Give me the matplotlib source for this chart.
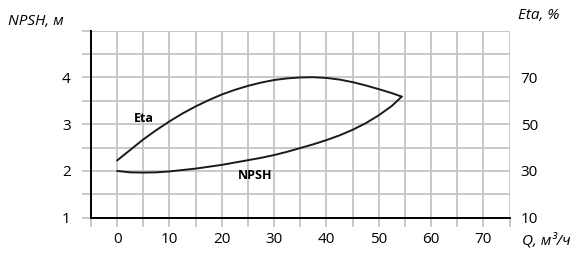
import numpy as np
import matplotlib
matplotlib.use('Agg')
import matplotlib.pyplot as plt

plt.rcParams['font.family'] = ['Open Sans', 'DejaVu Sans']

# flow, m3/h
q_eta = [0, 2.5, 5, 7.5, 10, 12.5, 15, 17.5, 20, 22.5, 25, 27.5, 30, 32.5,
         35, 37.5, 40, 42.5, 45, 47.5, 50, 52.5, 54.4]
# efficiency, %
eta = [34.5, 39.0, 43.5, 47.5, 51.2, 54.6, 57.6, 60.3, 62.7, 64.7, 66.4, 67.8,
       68.9, 69.6, 70.0, 70.1, 69.8, 69.1, 68.0, 66.6, 65.0, 63.3, 61.8]

q_npsh = [0, 2.5, 5, 7.5, 10, 12.5, 15, 17.5, 20, 22.5, 25, 27.5, 30, 32.5,
          35, 37.5, 40, 42.5, 45, 47.5, 50, 52.5, 54.4]
# NPSH, m
npsh = [2.0, 1.97, 1.965, 1.97, 1.99, 2.02, 2.05, 2.09, 2.13, 2.18, 2.23, 2.28,
        2.34, 2.41, 2.49, 2.57, 2.66, 2.76, 2.88, 3.02, 3.19, 3.39, 3.59]

x_labels = [0, 10, 20, 30, 40, 50, 60, 70]
y_left = [1, 2, 3, 4]
y_right = [10, 30, 50, 70]

grid_c = '#c4c4c4'
W, H = 572, 256

fig = plt.figure(figsize=(W / 100, H / 100), dpi=100)
ax = fig.add_axes([91 / W, 1 - 217.7 / H, (509.5 - 91) / W, (217.7 - 30.7) / H])

ax.set_xlim(-5, 75)
ax.set_ylim(1, 5)
ax.set_xticks(x_labels)
ax.set_xticks(np.arange(-5, 76, 5), minor=True)
ax.set_yticks(y_left)
ax.set_yticks(np.arange(1, 5.01, 0.5), minor=True)
ax.set_xticklabels([str(v) for v in x_labels])
ax.set_yticklabels([str(v) for v in y_left])
ax.set_axisbelow(True)
ax.grid(True, which='major', color=grid_c, lw=1.3)
ax.grid(True, which='minor', color=grid_c, lw=1.3)
ax.tick_params(which='both', direction='out', length=6.5, width=1.3,
               color=grid_c, labelsize=11)
ax.tick_params(axis='x', pad=4)
ax.tick_params(axis='y', pad=8)

for s in ['top', 'right']:
    ax.spines[s].set_visible(False)
for s in ['left', 'bottom']:
    ax.spines[s].set_color('black')
    ax.spines[s].set_linewidth(1.4)
    ax.spines[s].set_zorder(3)

ax.plot(q_npsh, npsh, color='#1a1a1a', lw=1.4, solid_capstyle='round', zorder=4)

ax2 = ax.twinx()
ax2.set_ylim(10, 90)
ax2.set_yticks(y_right)
ax2.set_yticklabels([str(v) for v in y_right])
ax2.tick_params(axis='y', length=0, pad=8, labelsize=11)
for s in ax2.spines.values():
    s.set_visible(False)
ax2.plot(q_eta, eta, color='#1a1a1a', lw=1.4, solid_capstyle='round', zorder=4)

ax.text(5.2, 3.13, 'Eta', fontsize=9, fontweight='bold', ha='center', va='center')
ax.text(26.4, 1.91, 'NPSH', fontsize=9, fontweight='bold', ha='center', va='center')

fig.text(8 / W, 1 - 21.7 / H, 'NPSH, м', fontsize=11, style='italic',
         ha='left', va='center')
fig.text(517.7 / W, 1 - 15.5 / H, 'Eta, %', fontsize=11, style='italic',
         ha='left', va='center')
fig.text(521.7 / W, 1 - 241 / H, 'Q, м³/ч', fontsize=11, style='italic',
         ha='left', va='center')

fig.savefig('out.png', dpi=100)
